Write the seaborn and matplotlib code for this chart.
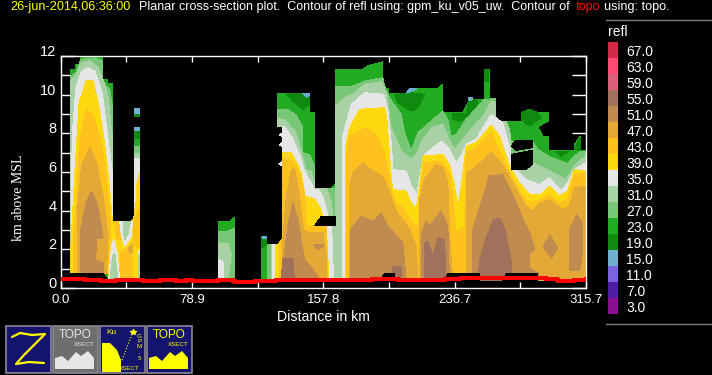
import matplotlib
matplotlib.use('Agg')
import matplotlib.pyplot as plt
from matplotlib.colors import ListedColormap
import seaborn as sns
import pandas as pd
import numpy as np

# colour table of the refl contours, low to high
levels = [3, 7, 11, 15, 19, 23, 27, 31, 35, 39, 43, 47, 51, 55, 59, 63, 67]
colors = ['#8B1090', '#4D1FA0', '#7B62E0', '#70AED0', '#0F8A0F', '#22AA22', '#77C777', '#A8D2A5',
          '#E6E6E6', '#FFD90F', '#FFC11E', '#E3A835', '#BF8B4E', '#A0725C', '#DC6079', '#F84C74', '#D42A4A']
level_color = dict(zip(levels, colors))
BASE = 0.4

# tower near 20 km: contour outlines as distance (km), height (km)
a23_x = [6.2, 6.2, 9.2, 9.2, 12.2, 12.2, 25.2, 25.2, 28.4, 28.4, 31.2, 31.2, 42.6, 44, 44, 6.2]
a23_z = [BASE, 11.3, 11.3, 11.55, 11.55, 12, 12, 10.8, 10.8, 10.6, 10.6, 3.44, 3.44, 3.6, BASE, BASE]
a27_x = [6.2, 6.2, 9.2, 12.2, 20.6, 25.2, 25.2, 27.2, 29.6, 31.2, 31.2, 28]
a27_z = [0.75, 10.97, 11.14, 11.83, 11.9, 11.76, 10.76, 10.5, 10.25, 9.4, 3.44, 0.75]
a31_x = [6.2, 6.2, 9.2, 12.6, 17.6, 22.6, 25.2, 28.6, 31.2, 31.2, 28]
a31_z = [0.75, 10.7, 11.0, 11.66, 11.75, 11.4, 10.9, 9.9, 7.7, 3.44, 0.75]
a35_x = [6.2, 7, 9.2, 12.6, 16.6, 20.6, 25.2, 28.6, 31.2, 31.2, 28]
a35_z = [0.75, 7.86, 10.36, 11.2, 11.4, 11.23, 10.05, 7.69, 5.96, 3.44, 0.75]
a39_x = [6.2, 6.2, 8.6, 11.2, 15.6, 19.6, 22.6, 25.6, 28.6, 31.2, 31.2, 28]
a39_z = [0.75, 2.15, 5.96, 9.59, 10.75, 10.7, 9.59, 8.03, 5.96, 3.5, 2.4, 0.75]
a43_x = [7.6, 7.6, 9.6, 11.6, 15.6, 19.6, 24.6, 27.6, 29.6, 30.6, 28.6]
a43_z = [0.75, 2.5, 4.58, 7.69, 9.24, 8.9, 7.51, 5.61, 3.88, 2.68, 0.75]
a47_x = [10, 10, 12.6, 17.6, 21.6, 25.6, 28.6, 27.6]
a47_z = [0.75, 3.88, 6.3, 7.3, 6.48, 4.75, 2.68, 0.75]
a51_x = [12, 12, 15.2, 18.6, 21.6, 24.6, 25.6, 21.6, 21.2, 25.6, 25.6]
a51_z = [0.75, 2.94, 4.4, 5.0, 4.49, 3.2, 2.59, 2.56, 1.47, 1.3, 0.75]

# shallow part right of that tower
low39_x = [28.6, 31.2, 42.6, 44, 44]
low39_z = [BASE, 3.44, 3.44, 3.6, BASE]
low43_x = [32.6, 35.6, 36, 33.6]
low43_z = [3.44, 3.44, 2.5, 2.5]
low43b_x = [35.6, 36, 41.6, 44, 44]
low43b_z = [BASE, 1.81, 2.16, 2.5, BASE]
low35_x = [29, 30.6, 32, 34, 35.6]
low35_z = [BASE, 2.16, 2.5, 1.81, BASE]
low31_x = [29.6, 31.2, 32.6, 34.6]
low31_z = [BASE, 1.64, 1.81, BASE]
wedge35_x = [35.6, 43.2, 42.6, 38.6, 36.6]
wedge35_z = [3.44, 3.44, 2.68, 2.16, 2.68]
wedge31_x = [37.6, 42, 40.6, 38.6, 37.6]
wedge31_z = [3.44, 3.44, 2.85, 2.5, 3.02]
low47_x = [40.6, 44, 44, 41.6]
low47_z = [2.07, 2.3, 1.9, 1.81]

# narrow column at 44-47.6 km
col_x = [44, 47.6, 47.6, 44]
col15a_z = [9.33, 9.33, 8.98, 8.98]
col19a_z = [8.98, 8.98, 8.84, 8.84]
col15b_z = [8.34, 8.34, 8.12, 8.12]
col19b_z = [8.12, 8.12, 7.69, 7.69]
col23_z = [7.69, 7.69, 7.34, 7.34]
col27_z = [7.34, 7.34, 6.99, 6.99]
col31_z = [6.99, 6.99, 6.7, 6.7]
col35_z = [6.7, 6.7, BASE, BASE]
col39_x = [47.6, 46, 45.6, 44, 44, 46, 46.6, 47.6]
col39_z = [5.96, 5.5, 4.6, 3.6, BASE, BASE, 2.0, 2.0]
col43_x = [44, 47.6, 47.6, 44]
col43_z = [3.4, 4.2, 2.1, 2.2]
col31b_x = [46.8, 47.2, 47.6, 47.6]
col31b_z = [BASE, 1.8, 1.8, BASE]

# small cell near 100 km
b23_x = [95.2, 95.2, 101.6, 104.6, 104.6]
b23_z = [BASE, 3.44, 3.44, 3.65, BASE]
b27_x = [95.2, 95.2, 100.6, 104.6, 104.6]
b27_z = [BASE, 2.94, 2.94, 3.1, BASE]
b31_x = [95.2, 95.2, 100.6, 102.6, 100.6]
b31_z = [BASE, 2.33, 2.3, 1.73, BASE]
b35_x = [95.2, 95.2, 97.6, 98]
b35_z = [BASE, 1.47, 1.38, BASE]

# outer edge of the long system from 120 km on
c23_x = [120.8, 120.8, 124, 124, 131.6, 133.6, 133.6, 130.6, 130.6, 149.6, 149.6, 152.7, 152.7, 162.7, 165.3, 165.3,
         181.7, 184.7, 193.7, 193.7, 197.1, 197.1, 207.7, 209.7, 226.7, 229.7, 229.7, 241.7, 245.7, 254.7, 254.7,
         257.7, 257.7, 261.1, 261.1, 276.7, 276.7, 281.7, 285, 293.1, 293.1, 286.7, 289.7, 293.1, 293.1, 308.7,
         308.7, 312.1, 312.1, 315.7, 315.7]
c23_z = [BASE, 2.68, 2.68, 2.25, 2.25, 2.5, 8.34, 8.34, 10.07, 10.07, 9.07, 9.07, 5.15, 5.15, 5.4, 11.31,
         11.31, 11.5, 11.7, 10.33, 10.33, 10.07, 10.07, 10.33, 10.33, 10.55, 9.07, 9.07, 9.76, 9.76, 11.31,
         11.31, 9.76, 9.76, 8.6, 8.6, 9.07, 9.24, 9.07, 9.07, 8.63, 8.34, 7.86, 7.86, 7.13, 7.13,
         7.4, 7.86, 7.13, 7.13, BASE]

# darker 19 dBZ pockets near the echo top
d1_x = [135.6, 149.6, 149.6, 145.6, 139.6]
d1_z = [10.07, 10.07, 9.5, 9.24, 9.67]
d2_x = [200.7, 209.7, 218.7, 214.7, 210.7, 202.7]
d2_z = [10.02, 10.1, 10.02, 9.33, 9.15, 9.59]
d3_x = [235.7, 243.7, 245.3, 250.7, 249.7, 245.7, 239.7, 235.7]
d3_z = [9.03, 9.03, 9.76, 9.76, 9.33, 8.98, 8.63, 8.72]
d4_x = [276.7, 281.7, 286.7, 288.7, 281.7, 276.7]
d4_z = [9.07, 9.24, 9.07, 8.81, 8.38, 8.72]
d5_x = [297.7, 305.7, 300.7]
d5_z = [7.08, 7.08, 6.82]
d6_x = [308.7, 312.1, 312.1]
d6_z = [7.17, 7.77, 7.12]
d7_x = [254.7, 257.7, 257.7, 254.7]
d7_z = [11.31, 11.31, 10.67, 10.67]
d8_x = [120.8, 124, 124, 120.8]
d8_z = [2.59, 2.59, 2.25, 2.07]
# the few 15 dBZ bits
e1_x = [120.8, 124, 124, 120.8]
e1_z = [2.68, 2.68, 2.55, 2.55]
e2_x = [145.6, 149.6, 149.6, 147.6]
e2_z = [10.07, 10.07, 9.97, 9.87]
e3_x = [207.7, 209.7, 214, 207.7]
e3_z = [10.07, 10.33, 10.3, 10.07]
e4_x = [245.3, 247.5, 247, 245.5]
e4_z = [9.85, 9.85, 9.7, 9.7]

# left part of the long system
c27_x = [124.4, 124.4, 133.6, 133.6, 130.6, 130.6, 136, 141.6, 145.6, 145.6, 149.6, 152.7, 152.7, 165.3, 165.3]
c27_z = [BASE, 2.25, 2.25, 8.34, 8.34, 9.25, 9.25, 8.95, 8.3, 7.0, 6.9, 6.3, 5.15, 5.15, BASE]
c31_x = [126.6, 126.6, 133.6, 133.6, 130.6, 130.6, 134.6, 141.6, 145.6, 147.6, 150.6, 152.7, 152.7, 160, 162.7, 164, 165.3, 165.3]
c31_z = [BASE, 2.25, 2.25, 8.34, 8.34, 8.75, 8.7, 8.0, 6.8, 6.1, 6.0, 5.5, 5.15, 5.15, 4.4, 3.5, 3.0, BASE]
c35_x = [127.6, 127.6, 133.6, 133.6, 131.2, 133.6, 133.6, 131.4, 133.6, 133.6, 131.6, 133.6, 133.6, 134.6, 139.6, 144.6,
         146.6, 152.7, 155, 157.7, 160.7, 162.7, 164]
c35_z = [BASE, 2.25, 2.3, 6.3, 6.42, 6.55, 7.3, 7.42, 7.55, 7.8, 7.92, 8.05, 8.34, 8.34, 7.7, 6.7,
         6.05, 5.1, 5.1, 4.7, 3.7, 3.7, BASE]
c39_x = [129, 129, 133.6, 133.6, 138.6, 141.6, 144.6, 147, 152.7, 155.7, 159.7, 161.3]
c39_z = [BASE, 2.2, 2.4, 6.99, 7.0, 6.55, 5.96, 4.75, 4.6, 4.2, 3.2, BASE]
c43_x = [131.6, 131.6, 133.6, 133.6, 139.6, 143.6, 146.6, 147.6, 159.7, 160.7]
c43_z = [BASE, 2.35, 2.6, 6.7, 6.6, 6.0, 4.9, 3.2, 3.2, BASE]
c47_x = [133, 133.6, 135.6, 138.6, 140.6, 143, 146, 149.7, 157.7, 159.7, 159.7]
c47_z = [BASE, 2.5, 4.7, 6.1, 6.2, 5.0, 3.0, 2.85, 2.85, 1.65, BASE]
c51_x = [132.6, 136.6, 139.6, 142.6, 144.6, 146.6, 151.6, 156]
c51_z = [BASE, 3.2, 4.4, 3.54, 2.5, 1.47, 0.95, BASE]
c51b_x = [151.7, 158.7, 154.7]
c51b_z = [2.25, 2.25, 2.0]
c55_x = [132.6, 133.6, 139.6, 140.6]
c55_z = [BASE, 1.55, 1.55, BASE]

# main part of the long system
m27_x = [165.3, 165.3, 175.7, 182.7, 193.7, 194.7, 197.7, 199.7, 204.7, 206.7, 210.7, 214.7, 218.7, 229.7, 232.7, 234.7,
         237.7, 243.7, 254.7, 261.1, 261.1, 267.7, 270.7, 283.3, 286.7, 293.7, 304.7, 308.7, 312.7, 315.7, 315.7]
m27_z = [BASE, 10.4, 10.45, 10.7, 10.88, 10.45, 9.84, 9.59, 8.98, 8.03, 7.12, 8.03, 8.34, 9.15, 8.72, 7.86,
         7.94, 8.72, 9.76, 9.79, 8.6, 8.6, 7.6, 7.6, 7.17, 6.79, 6.44, 6.82, 7.08, 7.08, BASE]
m31_x = [165.3, 165.3, 170.7, 175.7, 182.7, 192.7, 196.1, 198.7, 204.7, 210.7, 213.7, 217.7, 223.7, 229.7, 233.7, 236.7,
         239.7, 245.7, 254.7, 258.7, 261.1, 261.1, 267.7, 269.7, 271.7, 283.3, 283.7, 289.7, 295.7, 303.7, 308.7, 315.7, 315.7]
m31_z = [BASE, 9.41, 9.84, 10.02, 10.54, 10.66, 10.02, 8.29, 7.08, 6.65, 6.91, 7.69, 8.34, 8.46, 7.6, 7.17,
         7.51, 8.12, 8.98, 9.67, 9.59, 8.6, 8.6, 8.2, 7.0, 7.0, 6.48, 6.22, 5.96, 5.61, 6.3, 6.87, BASE]
m35_x = [169.7, 169.7, 171.7, 174.7, 182.7, 194.1, 196.7, 198.7, 199.7, 207.7, 210.7, 214.1, 216.7, 218.7, 228.7, 233.7,
         237.7, 240.7, 243.7, 249.7, 258.7, 265.7, 270.7, 271.7, 274.7, 279.7, 287.7, 293.7, 300.7, 304.7, 308.7, 315.7, 315.7]
m35_z = [BASE, 7.86, 8.55, 9.5, 10.1, 10.02, 9.15, 7.51, 6.13, 6.04, 5.27, 4.84, 6.22, 6.91, 7.6, 7.17,
         6.48, 6.82, 7.43, 7.69, 8.98, 8.55, 6.99, 6.13, 6.04, 5.61, 5.35, 5.7, 5.01, 5.44, 6.13, 6.48, BASE]
m39_x = [171.3, 171.3, 173.7, 179.7, 194.7, 196.1, 198.7, 199.7, 207.7, 210.7, 213.7, 215.7, 217.7, 229.7, 233.7, 236.7,
         238.7, 240.7, 243.7, 249.7, 258.7, 263.7, 269.7, 275.7, 281.7, 288.7, 293.7, 299.7, 304.7, 308.7, 315.7, 315.7]
m39_z = [BASE, 7.34, 8.29, 9.24, 9.33, 8.72, 5.7, 5.09, 5.01, 4.4, 4.06, 5.27, 6.82, 6.91, 6.39, 5.27,
         4.23, 5.27, 7.34, 7.51, 8.41, 7.86, 6.3, 5.44, 4.84, 4.84, 5.27, 4.75, 5.01, 6.13, 6.04, BASE]
m43_x = [172.1, 172.1, 173.7, 183.7, 190.7, 194.7, 198.7, 201.3, 205.7, 209.7, 213.3, 214.7, 216.7, 218.7, 228.7, 233.7,
         235.7, 237.7, 242.7, 243.7, 249.7, 258.7, 263.7, 269.7, 275.7, 281.7, 288.7, 293.7, 299.7, 304.7, 308.7, 315.7, 315.7]
m43_z = [BASE, 7.0, 7.86, 8.29, 7.86, 6.99, 5.09, 4.4, 4.15, 3.54, 3.2, 3.2, 5.44, 6.48, 6.56, 5.96,
         4.75, 2.85, 3.2, 6.99, 7.25, 8.03, 7.08, 5.96, 5.01, 4.4, 4.58, 4.84, 4.4, 4.58, 5.87, 5.96, BASE]
p47_x = [173.7, 173.7, 175.7, 181.7, 187.7, 193.7, 197.7, 201.7, 209.7, 213.7, 214.7]
p47_z = [BASE, 5.27, 5.96, 6.48, 6.04, 5.79, 4.92, 3.97, 3.02, 2.16, BASE]
q47_x = [215.7, 215.7, 218.7, 225.7, 229.7, 232.7, 233.7, 235.7]
q47_z = [BASE, 4.58, 5.61, 6.39, 6.22, 5.44, 2.85, BASE]
r47_x = [243.7, 243.7, 247.7, 258.7, 263.7, 269.7, 272.7, 279.7, 283.7, 288.7, 293.7, 301.7, 305.7, 308.7, 315.7, 315.7]
r47_z = [BASE, 5.96, 6.13, 6.99, 6.56, 5.79, 5.27, 4.23, 3.97, 4.4, 4.58, 4.06, 4.23, 5.18, 5.27, BASE]
p51_x = [174.3, 174.3, 180.7, 187.7, 192.7, 196.7, 205.7, 207.7]
p51_z = [BASE, 3.02, 3.71, 3.45, 3.89, 3.2, 2.33, BASE]
q51_x = [216.7, 216.7, 219.7, 221.7, 228.7, 232.7, 233.7]
q51_z = [BASE, 2.68, 3.45, 3.2, 3.97, 3.2, BASE]
r51_x = [247.7, 247.7, 257.7, 265.7, 272, 278, 282, 285, 282, 281.7, 287, 287]
r51_z = [BASE, 3.02, 5.79, 5.87, 4.75, 3.52, 2.83, 1.97, 1.8, 1.03, 0.77, BASE]
s51_x = [290, 294, 298.5, 295]
s51_z = [2.13, 2.75, 2.06, 1.55]
t51_x = [305.7, 310, 313.7, 313.7, 312, 306]
t51_z = [3.0, 3.78, 3.35, 1.97, 0.93, 0.93]
p55_x = [198.7, 199.7, 204.7, 204.7]
p55_z = [BASE, 1.12, 1.12, BASE]
q55_x = [218.7, 218.7, 220.7, 223.7, 226.7, 230.7, 231.7]
q55_z = [BASE, 2.33, 2.42, 1.64, 2.59, 2.5, BASE]
r55_x = [250.7, 252, 255, 260, 264, 267, 270, 271, 271]
r55_z = [BASE, 1.5, 2.4, 3.52, 3.62, 3.0, 1.8, 1.2, BASE]
# thin green strip left between the two upper holes
strip27_x = [270.7, 283.3, 283.3, 270.7]
strip27_z = [7.6, 7.6, 6.4, 6.1]

# echo-free holes and the gaps just above the ground
h1_x = [152.7, 156.7, 165.3, 165.3]
h1_z = [3.23, 3.71, 3.71, 3.23]
h2_x = [273.7, 283.3, 283.3, 273.7, 270.7]
h2_z = [7.63, 7.63, 7.25, 7.12, 7.34]
h3_x = [270.7, 283.3, 283.3, 279.7, 270.7]
h3_z = [6.91, 7.12, 6.39, 6.13, 6.13]
g1_x = [6.2, 6.2, 7.6, 25.6, 28.6]
g1_z = [BASE, 0.75, 0.75, 0.75, BASE]
g2_x = [191.7, 194.7, 200.7, 200.7]
g2_z = [BASE, 0.74, 0.74, BASE]
g3_x = [230.7, 232.7, 251.7, 251.7]
g3_z = [BASE, 0.74, 0.74, BASE]
g4_x = [265.7, 268.1, 286.7, 286.7]
g4_z = [BASE, 0.74, 0.74, BASE]

layers = [
    (23, a23_x, a23_z), (27, a27_x, a27_z), (31, a31_x, a31_z), (35, a35_x, a35_z), (39, a39_x, a39_z),
    (43, a43_x, a43_z), (47, a47_x, a47_z), (51, a51_x, a51_z),
    (39, low39_x, low39_z), (43, low43_x, low43_z), (43, low43b_x, low43b_z), (35, low35_x, low35_z),
    (31, low31_x, low31_z), (35, wedge35_x, wedge35_z), (31, wedge31_x, wedge31_z), (47, low47_x, low47_z),
    (15, col_x, col15a_z), (19, col_x, col19a_z), (15, col_x, col15b_z), (19, col_x, col19b_z), (23, col_x, col23_z),
    (27, col_x, col27_z), (31, col_x, col31_z), (35, col_x, col35_z), (39, col39_x, col39_z), (43, col43_x, col43_z),
    (31, col31b_x, col31b_z),
    (23, b23_x, b23_z), (27, b27_x, b27_z), (31, b31_x, b31_z), (35, b35_x, b35_z),
    (23, c23_x, c23_z), (19, d1_x, d1_z), (19, d2_x, d2_z), (19, d3_x, d3_z), (19, d4_x, d4_z), (19, d5_x, d5_z),
    (19, d6_x, d6_z), (19, d7_x, d7_z), (19, d8_x, d8_z), (15, e1_x, e1_z), (15, e2_x, e2_z), (15, e3_x, e3_z), (15, e4_x, e4_z),
    (27, c27_x, c27_z), (31, c31_x, c31_z), (35, c35_x, c35_z), (39, c39_x, c39_z), (43, c43_x, c43_z),
    (47, c47_x, c47_z), (51, c51_x, c51_z), (51, c51b_x, c51b_z), (55, c55_x, c55_z),
    (27, m27_x, m27_z), (31, m31_x, m31_z), (35, m35_x, m35_z), (39, m39_x, m39_z), (43, m43_x, m43_z),
    (47, p47_x, p47_z), (47, q47_x, q47_z), (47, r47_x, r47_z), (51, p51_x, p51_z), (51, q51_x, q51_z),
    (51, r51_x, r51_z), (51, s51_x, s51_z), (51, t51_x, t51_z), (55, p55_x, p55_z), (55, q55_x, q55_z), (55, r55_x, r55_z),
    (27, strip27_x, strip27_z),
]
holes = [(h1_x, h1_z), (h2_x, h2_z), (h3_x, h3_z), (g1_x, g1_z), (g2_x, g2_z), (g3_x, g3_z), (g4_x, g4_z)]

# terrain height along the section
topo_x = [0, 13.6, 14.6, 23.6, 24.6, 32.6, 33.6, 48.6, 49.6, 58.6, 59.6, 68.6, 69.6, 74.6, 75.6, 78.6, 79.6, 93.6, 94.6,
          103.6, 104.6, 115.6, 116.6, 128.6, 129.6, 152.6, 183, 187, 203, 231, 238, 240, 291.6, 298, 299, 308.7, 315.7]
topo_z = [0.48, 0.48, 0.43, 0.43, 0.38, 0.38, 0.43, 0.43, 0.38, 0.38, 0.43, 0.43, 0.38, 0.38, 0.43, 0.43, 0.38, 0.38, 0.43,
          0.38, 0.33, 0.33, 0.38, 0.38, 0.43, 0.43, 0.43, 0.48, 0.43, 0.48, 0.48, 0.5, 0.48, 0.43, 0.38, 0.43, 0.48]

dist_ticks = [0.0, 78.9, 157.8, 236.7, 315.7]
dist_minor = [39.46, 118.4, 197.3, 276.2]
height_labels = [0, 2, 4, 6, 8, 10, 12]
height_minor = [1, 3, 5, 7, 9, 11]

W, H = 712, 375
sns.set_theme(style='ticks', rc={'figure.facecolor': 'black', 'axes.facecolor': 'black', 'savefig.facecolor': 'black',
                                 'text.color': 'white', 'axes.labelcolor': 'white', 'axes.edgecolor': 'white',
                                 'xtick.color': 'white', 'ytick.color': 'white'})
plt.rcParams['font.family'] = ['Liberation Sans', 'DejaVu Sans']

fig = plt.figure(figsize=(W / 100, H / 100), dpi=100)


def px_axes(left, top, right, bottom, **kw):
    return fig.add_axes([left / W, 1 - bottom / H, (right - left) / W, (bottom - top) / H], **kw)


ax = px_axes(60.5, 56, 586, 288)
for level, xs, zs in layers:
    ax.fill(xs, zs, color=level_color[level], lw=0, antialiased=False)
for xs, zs in holes:
    ax.fill(xs, zs, color='black', lw=0, antialiased=False)

topo = pd.DataFrame({'distance': topo_x, 'height': topo_z})
sns.lineplot(data=topo, x='distance', y='height', ax=ax, color='#FF0000', lw=2.6, drawstyle='steps-post',
             zorder=5, antialiased=False)

ax.set_xlim(0, 315.7)
ax.set_ylim(0, 12)
ax.set_xticks(dist_ticks, [f'{d:.1f}' for d in dist_ticks])
ax.set_xticks(dist_minor, minor=True)
ax.set_yticks(height_labels, [str(h) for h in height_labels])
ax.set_yticks(height_minor, minor=True)
ax.tick_params(axis='x', which='both', direction='in', top=True, bottom=True, length=4.5, width=1, labelsize=9.5, pad=4)
ax.tick_params(axis='y', which='both', direction='in', left=True, right=True, length=10, width=1, labelsize=10.5, pad=3)
# numbers sit on top of their tick, like in the original plot
for t in ax.get_yticklabels():
    t.set_va('baseline')
for s in ax.spines.values():
    s.set_visible(True)
    s.set_linewidth(1)
ax.set_xlabel('Distance in km', fontsize=10.2, labelpad=3.5)
ax.set_ylabel('')

# header text
fig.text(10 / W, 1 - 7 / H, '26-jun-2014,06:36:00', color='#FFFF00', fontsize=9.1, va='center')
fig.text(139 / W, 1 - 7 / H, 'Planar cross-section plot.  Contour of refl using: gpm_ku_v05_uw.  Contour of',
         color='white', fontsize=9.03, va='center')
fig.text(576 / W, 1 - 7 / H, 'topo', color='#FF0000', fontsize=9.1, va='center')
fig.text(604 / W, 1 - 7 / H, 'using: topo.', color='white', fontsize=9.1, va='center')
fig.text(19 / W, 1 - 198 / H, 'km above MSL', rotation=90, family='Liberation Serif', fontsize=10, ha='center', va='center')

# colour key
key = px_axes(608, 42, 618, 314)
grid = np.arange(len(levels))[::-1].reshape(-1, 1)
sns.heatmap(grid, ax=key, cmap=ListedColormap(colors), cbar=False, xticklabels=False,
            yticklabels=[f'{v:.1f}' for v in levels[::-1]])
key.yaxis.tick_right()
key.tick_params(axis='y', length=0, pad=6, labelsize=10, labelrotation=0, labelcolor='white')
fig.text(608 / W, 1 - 32 / H, 'refl', color='white', fontsize=10, va='center')
fig.add_artist(plt.Line2D([606 / W, 1], [1 - 20 / H] * 2, color='#808080', lw=1))
fig.add_artist(plt.Line2D([606 / W, 1], [1 - 324 / H] * 2, color='#808080', lw=1))

# the four buttons under the plot
icons = px_axes(0, 0, W, H)
icons.set_xlim(0, W)
icons.set_ylim(H, 0)
icons.axis('off')
icons.patch.set_alpha(0)
NAVY = '#14146E'
for left, face in [(5, NAVY), (52, '#6E6E6E'), (99, NAVY), (146, NAVY)]:
    icons.add_patch(plt.Rectangle((left + 0.5, 325.5), 45, 47, facecolor=face, edgecolor='#8A8A9A', lw=1.2))
icons.plot([12, 20, 32, 45, 34, 24, 16, 29, 44], [337, 333, 335, 334, 345, 355, 364, 362, 363], color='#FFFF00', lw=1.6)
for left, tc, fill in [(52, '#E6E6E6', '#E6E6E6'), (146, '#FFFF00', '#FFFF00')]:
    icons.text(left + 23, 335, 'TOPO', color=tc, fontsize=8.5, ha='center', va='center')
    icons.text(left + 32, 344, 'XSECT', color=tc, fontsize=4.5, ha='center', va='center')
    icons.fill([left + 3, left + 3, left + 10, left + 16, left + 24, left + 29, left + 36, left + 42, left + 42],
               [369, 358, 356, 361, 352, 356, 351, 358, 369], color=fill, lw=0)
icons.text(111, 333, "Ku", color='#FFFF00', fontsize=6, ha='center', va='center')
icons.text(129, 369, 'XSECT', color='#FFFF00', fontsize=4.5, ha='center', va='center')
for i, c in enumerate('GPM.5'):
    icons.text(139.5, 336 + i * 5.5, c, color='#FFFF00', fontsize=4.5, ha='center', va='center')
icons.fill([102, 102, 110, 117, 121, 121], [372, 343, 343, 350, 360, 372], color='#FFFF00', lw=0)
icons.plot([122, 133], [360, 332], color='#FFFF00', lw=0.8, ls=':')
icons.plot([133], [332], marker='*', color='#FFFF00', ms=4)

fig.savefig('out.png', dpi=100, facecolor='black')
